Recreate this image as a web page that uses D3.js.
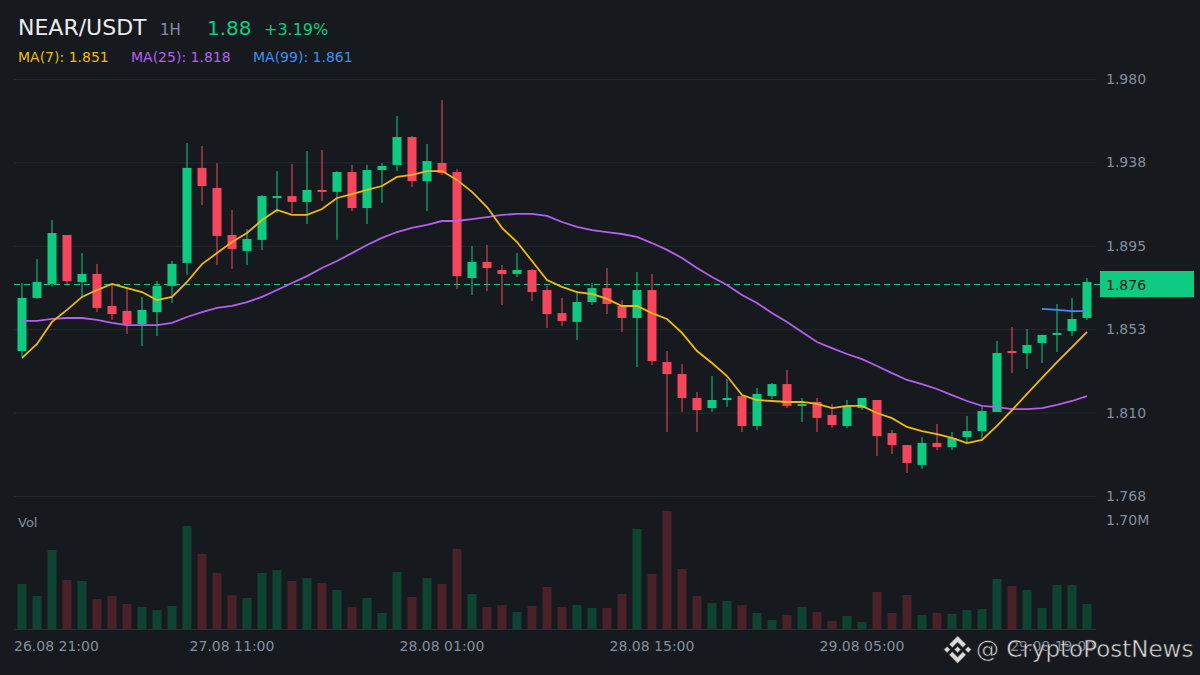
<!DOCTYPE html>
<html>
<head>
<meta charset="utf-8">
<script src="https://cdn.jsdelivr.net/npm/d3@7"></script>
<style>
  body { margin: 0; background: #161a1e; }
  svg { display: block; font-family: "DejaVu Sans", sans-serif; }
</style>
</head>
<body>
<div id="chart"></div>
<script>
let w = 1200;
let h = 675;

// candles, one per hour from 26.08 21:00
let opens  = [1.8417,1.8687,1.8758,1.9007,1.8768,1.8809,1.8646,1.8621,1.8554,1.8615,1.8748,1.8865,1.9348,1.9246,1.9007,1.8926,1.8982,1.9200,1.9205,1.9175,1.9236,1.9226,1.9327,1.9144,1.9337,1.9363,1.9505,1.9281,1.9373,1.9327,1.8788,1.8870,1.8829,1.8809,1.8829,1.8727,1.8610,1.8565,1.8666,1.8737,1.8646,1.8585,1.8727,1.8361,1.8300,1.8178,1.8127,1.8168,1.8188,1.8036,1.8188,1.8249,1.8138,1.8158,1.8092,1.8036,1.8127,1.8168,1.8000,1.7939,1.7838,1.7950,1.7929,1.7980,1.8010,1.8107,1.8417,1.8407,1.8458,1.8499,1.8519,1.8585];
let highs  = [1.8763,1.8885,1.9083,1.9007,1.8915,1.8860,1.8753,1.8743,1.8692,1.8773,1.8875,1.9475,1.9459,1.9373,1.9134,1.9037,1.9210,1.9332,1.9368,1.9434,1.9439,1.9332,1.9363,1.9363,1.9373,1.9612,1.9510,1.9470,1.9693,1.9342,1.8951,1.8956,1.8854,1.8915,1.8834,1.8748,1.8687,1.8722,1.8763,1.8839,1.8676,1.8819,1.8809,1.8417,1.8351,1.8209,1.8290,1.8275,1.8188,1.8229,1.8255,1.8321,1.8178,1.8178,1.8148,1.8168,1.8178,1.8168,1.8016,1.7939,1.7980,1.8046,1.8005,1.8087,1.8138,1.8468,1.8539,1.8529,1.8499,1.8656,1.8687,1.8788];
let lows   = [1.8387,1.8682,1.8743,1.8758,1.8692,1.8615,1.8575,1.8504,1.8443,1.8493,1.8661,1.8804,1.9159,1.8854,1.8834,1.8854,1.8931,1.9119,1.9119,1.9063,1.9180,1.8982,1.9129,1.9063,1.9170,1.9332,1.9251,1.9129,1.9312,1.8732,1.8702,1.8722,1.8651,1.8793,1.8671,1.8534,1.8544,1.8473,1.8651,1.8605,1.8514,1.8336,1.8346,1.8005,1.8107,1.8005,1.8107,1.8133,1.8005,1.8015,1.8173,1.8127,1.8056,1.8005,1.8026,1.8026,1.8117,1.7883,1.7894,1.7797,1.7817,1.7914,1.7914,1.7950,1.7970,1.8107,1.8305,1.8326,1.8356,1.8412,1.8493,1.8575];
let closes = [1.8687,1.8768,1.9017,1.8773,1.8809,1.8636,1.8605,1.8554,1.8626,1.8748,1.8860,1.9348,1.9256,1.9002,1.8936,1.8987,1.9205,1.9205,1.9175,1.9236,1.9226,1.9327,1.9144,1.9337,1.9358,1.9505,1.9281,1.9383,1.9322,1.8798,1.8870,1.8839,1.8809,1.8829,1.8717,1.8605,1.8570,1.8666,1.8737,1.8656,1.8585,1.8727,1.8366,1.8300,1.8178,1.8117,1.8168,1.8178,1.8036,1.8199,1.8249,1.8138,1.8148,1.8077,1.8041,1.8138,1.8178,1.7985,1.7939,1.7848,1.7950,1.7929,1.7975,1.8010,1.8112,1.8407,1.8407,1.8448,1.8499,1.8509,1.8580,1.8768];
// volume in thousands
let volumes = [702,515,1232,764,749,468,515,390,343,296,359,1606,1170,873,530,484,873,920,749,795,717,608,343,484,250,889,499,795,702,1248,546,343,374,265,359,655,343,374,328,328,546,1560,858,1840,936,515,406,437,374,250,140,218,343,265,125,203,109,577,250,530,218,250,234,296,312,780,671,608,328,686,686,390];

// moving averages as shown
let ma7  = [1.8382,1.8453,1.8565,1.8626,1.8692,1.8727,1.8758,1.8737,1.8717,1.8676,1.8692,1.8768,1.8859,1.8915,1.8971,1.9017,1.9083,1.9134,1.9109,1.9109,1.9139,1.9195,1.9215,1.9236,1.9256,1.9302,1.9312,1.9332,1.9332,1.9287,1.9226,1.9149,1.9043,1.8971,1.8875,1.8778,1.8743,1.8717,1.8707,1.8682,1.8646,1.8646,1.8610,1.8580,1.8509,1.8417,1.8356,1.8290,1.8193,1.8168,1.8163,1.8158,1.8158,1.8148,1.8127,1.8138,1.8138,1.8102,1.8076,1.8031,1.8010,1.7995,1.7975,1.7949,1.7965,1.8036,1.8117,1.8199,1.8280,1.8361,1.8437,1.8514];
let ma25 = [1.8570,1.8570,1.8580,1.8585,1.8585,1.8575,1.8560,1.8549,1.8549,1.8549,1.8560,1.8590,1.8615,1.8636,1.8646,1.8666,1.8692,1.8727,1.8763,1.8798,1.8839,1.8875,1.8915,1.8956,1.8992,1.9022,1.9043,1.9058,1.9078,1.9078,1.9088,1.9098,1.9109,1.9114,1.9114,1.9104,1.9073,1.9048,1.9032,1.9022,1.9012,1.8997,1.8966,1.8931,1.8890,1.8839,1.8793,1.8753,1.8702,1.8661,1.8610,1.8565,1.8514,1.8463,1.8432,1.8402,1.8376,1.8341,1.8305,1.8270,1.8249,1.8224,1.8193,1.8163,1.8138,1.8132,1.8122,1.8122,1.8127,1.8143,1.8163,1.8188];
let ma99Start = 68;
let ma99 = [1.8631,1.8626,1.8620,1.8620];

let priceTicks = [1.768, 1.8104, 1.8528, 1.8952, 1.9376, 1.980];
let priceTickLabels = ["1.768", "1.810", "1.853", "1.895", "1.938", "1.980"];
let timeTicks = [0, 14, 28, 42, 56, 70];
let timeTickLabels = ["26.08 21:00", "27.08 11:00", "28.08 01:00", "28.08 15:00", "29.08 05:00", "29.08 19:00"];
let lastPrice = 1.876;

let green = "#0ecb81";
let red = "#f6465d";
let textGrey = "#848e9c";
let gridColor = "#252930";

let viz = d3.select("#chart")
  .append("svg")
    .attr("width", w)
    .attr("height", h)
    .style("background-color", "#161a1e")
;

// scales
let x = d3.scaleBand().domain(d3.range(opens.length)).range([14.5, 1094.5]);
let cx = i => x(i) + x.bandwidth() / 2;
let y = d3.scaleLinear().domain([1.768, 1.980]).range([496, 79]);
let yVol = d3.scaleLinear().domain([0, 1700]).range([629, 520]);

// grid lines
let grid = viz.append("g").attr("transform", "translate(14,0)")
  .call(d3.axisRight(y).tickValues(priceTicks).tickSize(1082).tickFormat(""));
grid.select(".domain").remove();
grid.selectAll("line").attr("stroke", gridColor);

// price labels
let yAxis = viz.append("g").attr("transform", "translate(1106,0)")
  .call(d3.axisRight(y).tickValues(priceTicks).tickSize(0).tickPadding(0)
    .tickFormat((d, i) => priceTickLabels[i]));
yAxis.select(".domain").remove();
yAxis.selectAll("text")
  .attr("fill", textGrey)
  .style("font-size", "14px")
  .style("font-family", "DejaVu Sans");

// volume baseline
viz.append("line")
  .attr("x1", 14).attr("x2", 1096)
  .attr("y1", yVol(0) + 0.5).attr("y2", yVol(0) + 0.5)
  .attr("stroke", "#2b2f36");

// volume bars
viz.selectAll(".vol").data(volumes).enter()
  .append("rect")
  .attr("class", "vol")
  .attr("x", (d, i) => cx(i) - 4.5)
  .attr("width", 9)
  .attr("y", d => yVol(d))
  .attr("height", d => yVol(0) - yVol(d))
  .attr("fill", (d, i) => closes[i] >= opens[i] ? "#0f4331" : "#4a2128")
;

viz.append("text").text("Vol")
  .attr("x", 18).attr("y", 527)
  .attr("fill", textGrey).style("font-size", "13px");

viz.append("text").text("1.70M")
  .attr("x", 1106).attr("y", yVol(1700))
  .attr("dy", "0.36em")
  .attr("fill", textGrey).style("font-size", "14px");

// last price line (snapped to a pixel row so it stays crisp)
let lastY = Math.round(y(lastPrice)) + 0.5;
viz.append("line")
  .attr("x1", 14).attr("x2", 1100)
  .attr("y1", lastY).attr("y2", lastY)
  .attr("stroke", green)
  .attr("stroke-width", 1.2)
  .attr("stroke-dasharray", "6,4");

// candles
let candles = viz.selectAll(".candle").data(opens).enter()
  .append("g").attr("class", "candle");

candles.append("line")
  .attr("x1", (d, i) => cx(i)).attr("x2", (d, i) => cx(i))
  .attr("y1", (d, i) => y(highs[i])).attr("y2", (d, i) => y(lows[i]))
  .attr("stroke", (d, i) => closes[i] >= opens[i] ? green : red)
  .attr("stroke-width", 1);

candles.append("rect")
  .attr("x", (d, i) => cx(i) - 4.5)
  .attr("width", 9)
  .attr("y", (d, i) => y(Math.max(opens[i], closes[i])))
  .attr("height", (d, i) => Math.max(2, Math.abs(y(opens[i]) - y(closes[i]))))
  .attr("fill", (d, i) => closes[i] >= opens[i] ? green : red);

// moving averages
let maLine = d3.line().x(d => cx(d[0])).y(d => y(d[1]));
function drawMA(values, start, color) {
  viz.append("path")
    .datum(values.map((v, i) => [i + start, v]))
    .attr("d", maLine)
    .attr("fill", "none")
    .attr("stroke", color)
    .attr("stroke-width", 1.8);
}
drawMA(ma25, 0, "#b45ff0");
drawMA(ma7, 0, "#f0b90b");
drawMA(ma99, ma99Start, "#3d8ff0");

// current price tag
viz.append("rect")
  .attr("x", 1100).attr("width", 94)
  .attr("y", lastY - 13.5).attr("height", 26)
  .attr("fill", green);
viz.append("text").text(lastPrice.toFixed(3))
  .attr("x", 1106).attr("y", lastY)
  .attr("dy", "0.36em")
  .attr("fill", "#13171c").style("font-size", "14px");

// time axis
let xAxis = viz.append("g").attr("transform", "translate(0,629)")
  .call(d3.axisBottom(x).tickValues(timeTicks).tickSize(0).tickPadding(12)
    .tickFormat((d, i) => timeTickLabels[i]));
xAxis.select(".domain").remove();
xAxis.selectAll("text")
  .attr("fill", textGrey)
  .style("font-size", "14px")
  .style("font-family", "DejaVu Sans");
xAxis.selectAll("text").filter((d, i) => i === 0)
  .attr("text-anchor", "start").attr("x", 14 - cx(0));
xAxis.selectAll("text").filter((d, i) => i === timeTicks.length - 1)
  .attr("text-anchor", "end").attr("x", 1095 - cx(70));

// header
let header = viz.append("text").attr("y", 35);
header.append("tspan").text("NEAR/USDT").attr("x", 18)
  .attr("fill", "#eaecef").style("font-size", "22px");
header.append("tspan").text("1H").attr("x", 160)
  .attr("fill", textGrey).style("font-size", "15px");
header.append("tspan").text("1.88").attr("x", 207)
  .attr("fill", green).style("font-size", "20px");
header.append("tspan").text("+3.19%").attr("x", 264)
  .attr("fill", green).style("font-size", "16px");

let legend = [
  {label: "MA(7): 1.851", color: "#f0b90b", x: 18},
  {label: "MA(25): 1.818", color: "#b45ff0", x: 131},
  {label: "MA(99): 1.861", color: "#3d8ff0", x: 253}
];
viz.selectAll(".legend").data(legend).enter()
  .append("text")
  .attr("class", "legend")
  .attr("x", d => d.x).attr("y", 62)
  .attr("fill", d => d.color)
  .style("font-size", "14px")
  .text(d => d.label);

// watermark
let logo = viz.append("g").attr("transform", "translate(944,636) scale(0.215)");
logo.append("path")
  .attr("d", "M38.73 53.2L63.32 28.62 87.92 53.22 102.22 38.91 63.32 0 24.43 38.9zM0 63.31L14.3 49 28.61 63.31 14.3 77.61zM38.73 73.41L63.32 98 87.92 73.4 102.23 87.69 63.32 126.6 24.41 87.72zM98.01 63.31L112.31 49 126.62 63.31 112.31 77.61zM77.83 63.3L63.32 48.78 48.81 63.3 63.32 77.82z")
  .attr("fill", "#dcdcdc")
  .attr("stroke", "#555")
  .attr("stroke-width", 3);
viz.append("text").text("@ CryptoPostNews")
  .attr("x", 976).attr("y", 657)
  .attr("fill", "#dedede")
  .attr("stroke", "#2a2a2a").attr("stroke-width", 0.6)
  .style("font-size", "23px");
</script>
</body>
</html>
